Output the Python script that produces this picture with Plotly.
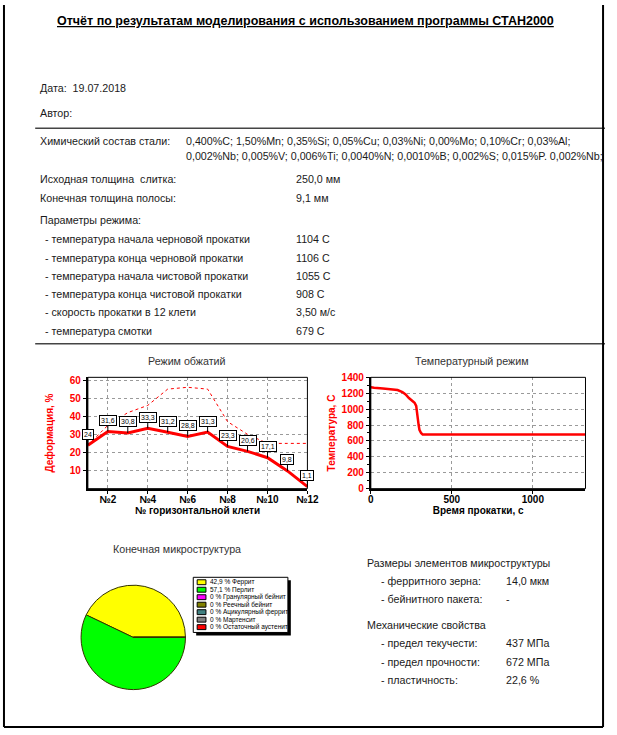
import plotly.graph_objects as go

W, H = 617, 735
FONT = "Liberation Sans, Arial, sans-serif"

# --- report data ---
report_title = "Отчёт по результатам моделирования с использованием программы СТАН2000"
report_date = "19.07.2018"
chem_line1 = "0,400%C; 1,50%Mn; 0,35%Si; 0,05%Cu; 0,03%Ni; 0,00%Mo; 0,10%Cr; 0,03%Al;"
chem_line2 = "0,002%Nb; 0,005%V; 0,006%Ti; 0,0040%N; 0,0010%B; 0,002%S; 0,015%P. 0,002%Nb;"
thickness_labels = ["Исходная толщина  слитка:", "Конечная толщина полосы:"]
thickness_values = ["250,0 мм", "9,1 мм"]
mode_labels = [
    " - температура начала черновой прокатки",
    " - температура конца черновой прокатки",
    " - температура начала чистовой прокатки",
    " - температура конца чистовой прокатки",
    " - скорость прокатки в 12 клети",
    " - температура смотки",
]
mode_values = ["1104 С", "1106 С", "1055 С", "908 С", "3,50 м/с", "679 С"]

# deformation by stand
stands = [1, 2, 3, 4, 5, 6, 7, 8, 9, 10, 11, 12]
deformation = [24, 31.6, 30.8, 33.3, 31.2, 28.8, 31.3, 23.3, 20.6, 17.1, 9.8, 1.1]
max_deformation = [24, 35, 42, 46, 55, 56, 55, 37, 30, 25, 25, 25]
stand_ticks = [2, 4, 6, 8, 10, 12]

# temperature vs time
time_s = [0, 20, 75, 130, 165, 195, 215, 235, 255, 270, 280, 285, 290, 295, 300, 310, 320, 1330]
temp_c = [1275, 1268, 1260, 1250, 1240, 1215, 1185, 1140, 1105, 1080, 1040, 980, 880, 800, 740, 700, 680, 680]

# microstructure
phase_names = ["Феррит", "Перлит", "Гранулярный бейнит", "Реечный бейнит",
               "Ацикулярный феррит", "Мартенсит", "Остаточный аустенит"]
phase_share = [42.9, 57.1, 0, 0, 0, 0, 0]
phase_colors = ["#ffff00", "#00ff00", "#ff00ff", "#808000", "#408080", "#808080", "#ff0000"]

size_labels = ["- ферритного зерна:", "- бейнитного пакета:"]
size_values = ["14,0 мкм", "-"]
mech_labels = ["- предел текучести:", "- предел прочности:", "- пластичность:"]
mech_values = ["437 МПа", "672 МПа", "22,6 %"]


def px(x):
    return x / W


def py(y):
    return 1 - y / H


def fmt(v):
    return f"{v:g}".replace(".", ",")


fig = go.Figure()

# deformation chart
fig.add_trace(go.Scatter(x=stands, y=max_deformation, mode="lines",
                         line=dict(color="#ff0000", width=1, dash="dot"),
                         xaxis="x", yaxis="y", showlegend=False))
fig.add_trace(go.Scatter(x=stands, y=deformation, mode="lines",
                         line=dict(color="#ff0000", width=3),
                         xaxis="x", yaxis="y", showlegend=False))

# temperature chart
fig.add_trace(go.Scatter(x=time_s, y=temp_c, mode="lines",
                         line=dict(color="#ff0000", width=2.5),
                         xaxis="x2", yaxis="y2", showlegend=False))

# pie: first slice ends at 3 o'clock, going counterclockwise
first_angle = 90 - phase_share[0] / sum(phase_share) * 360
fig.add_trace(go.Pie(labels=phase_names, values=phase_share, sort=False,
                     rotation=first_angle, direction="counterclockwise",
                     marker=dict(colors=phase_colors, line=dict(color="#333300", width=1)),
                     textinfo="none", showlegend=False,
                     domain=dict(x=[px(79), px(188)], y=[py(695), py(589)])))

annotations = []
shapes = []


def text(x, y, s, size=10.7, color="#1a1a1a", anchor="left", bold=False):
    annotations.append(dict(
        x=px(x), y=py(y), xref="paper", yref="paper", text=f"<b>{s}</b>" if bold else s,
        showarrow=False, xanchor=anchor, yanchor="middle",
        font=dict(family=FONT, size=size, color=color)))


# header
text(310, 16, f"<u>{report_title}</u>", size=12.5, color="#000", anchor="center", bold=True)
text(36, 84, f"Дата:&nbsp;&nbsp;{report_date}")
text(36, 110, "Автор:")
text(36, 138, "Химический состав стали:")
text(185, 138, chem_line1)
text(185, 153, chem_line2)
for i, (lab, val) in enumerate(zip(thickness_labels, thickness_values)):
    text(36, 177 + i * 18.5, lab)
    text(298, 177 + i * 18.5, val)
text(36, 218, "Параметры режима:")
for i, (lab, val) in enumerate(zip(mode_labels, mode_values)):
    text(38, 238 + i * 18.5, lab)
    text(298, 238 + i * 18.5, val)

shapes.append(dict(type="line", xref="paper", yref="paper", x0=px(33), x1=1, y0=py(125), y1=py(125),
                   line=dict(color="#444", width=1.5)))
shapes.append(dict(type="line", xref="paper", yref="paper", x0=px(33), x1=1, y0=py(344), y1=py(344),
                   line=dict(color="#444", width=1.5)))

# chart titles
text(189, 361, "Режим обжатий", color="#333", anchor="center")
text(481, 361, "Температурный режим", color="#333", anchor="center")
text(178, 552, "Конечная микроструктура", color="#333", anchor="center")

# data labels on deformation
for s, v in zip(stands, deformation):
    annotations.append(dict(
        x=s, y=v, xref="x", yref="y", text=fmt(v), showarrow=True, arrowhead=0,
        arrowwidth=1, arrowcolor="#000", ax=0, ay=-11, standoff=0,
        font=dict(family=FONT, size=7, color="#000"), bgcolor="#fff",
        bordercolor="#000", borderwidth=1, borderpad=1))

# plot frames
for xr, yr in (("x domain", "y domain"), ("x2 domain", "y2 domain")):
    shapes.append(dict(type="rect", xref=xr, yref=yr, x0=0, x1=1, y0=0, y1=1,
                       line=dict(color="#000", width=1)))

# pie legend box
lx0, lx1, ly0, ly1 = 195, 292, 581, 637
shapes.append(dict(type="rect", xref="paper", yref="paper", x0=px(lx0 + 3), x1=px(lx1 + 3),
                   y0=py(ly1 + 3), y1=py(ly0 + 3), fillcolor="#000", line=dict(width=0)))
shapes.append(dict(type="rect", xref="paper", yref="paper", x0=px(lx0), x1=px(lx1),
                   y0=py(ly1), y1=py(ly0), fillcolor="#fff", line=dict(color="#000", width=1)))
for i, (name, share, col) in enumerate(zip(phase_names, phase_share, phase_colors)):
    yy = 586 + i * 7.6
    shapes.append(dict(type="rect", xref="paper", yref="paper", x0=px(199), x1=px(208),
                       y0=py(yy + 2.5), y1=py(yy - 2.5), fillcolor=col,
                       line=dict(color="#000", width=1)))
    text(210, yy, f"{fmt(share)} % {name}", size=6.5, color="#000")

# right info block
text(371, 566, "Размеры элементов микроструктуры")
for i, (lab, val) in enumerate(zip(size_labels, size_values)):
    text(385, 585 + i * 18.5, lab)
    text(513, 585 + i * 18.5, val)
text(371, 629, "Механические свойства")
for i, (lab, val) in enumerate(zip(mech_labels, mech_values)):
    text(385, 648 + i * 18.5, lab)
    text(513, 648 + i * 18.5, val)

# page border
for x0, y0, x1, y1 in ((1, 0, 1, 733), (615, 0, 615, 733), (1, 733, 615, 733)):
    shapes.append(dict(type="line", xref="paper", yref="paper", x0=px(x0), x1=px(x1),
                       y0=py(y0), y1=py(y1), line=dict(color="#000", width=2)))

axis_font = dict(family=FONT, size=10, color="#000", weight="bold")
red_font = dict(family=FONT, size=10, color="#ff0000", weight="bold")
grid = dict(showgrid=True, gridcolor="#9a9a9a", griddash="dot", gridwidth=1,
            zeroline=False, showline=True, linecolor="#000", linewidth=2,
            ticks="outside", ticklen=3, tickcolor="#000")

fig.update_layout(
    width=W, height=H, margin=dict(l=0, r=0, t=0, b=0),
    paper_bgcolor="#fff", plot_bgcolor="#fff", showlegend=False,
    annotations=annotations, shapes=shapes,
    xaxis=dict(domain=[px(87), px(312)], range=[1, 12], anchor="y",
               tickvals=stand_ticks, ticktext=[f"№{s}" for s in stand_ticks],
               tickfont=axis_font, ticklabelstandoff=-3,
               title=dict(text="№ горизонтальной клети", font=dict(family=FONT, size=10, color="#000", weight="bold"), standoff=0),
               **grid),
    yaxis=dict(domain=[py(491), py(378)], range=[0, 61.5], anchor="x",
               tickvals=[10, 20, 30, 40, 50, 60], tickfont=red_font,
               title=dict(text="Деформация, %", font=dict(family=FONT, size=10, color="#ff0000", weight="bold"), standoff=14),
               **grid),
    xaxis2=dict(domain=[px(377), px(597)], range=[0, 1325], anchor="y2",
                tickvals=[0, 500, 1000], tickfont=axis_font, ticklabelstandoff=-3,
                title=dict(text="Время прокатки, с", font=dict(family=FONT, size=10, color="#000", weight="bold"), standoff=0),
                **grid),
    yaxis2=dict(domain=[py(491), py(378)], range=[0, 1400], anchor="x2",
                dtick=200, tickfont=red_font,
                minor=dict(dtick=100, ticks="outside", ticklen=2, tickcolor="#000"),
                title=dict(text="Температура, С", font=dict(family=FONT, size=10, color="#ff0000", weight="bold"), standoff=4),
                **grid),
)

# plotly's page keeps an 8px body margin; drop it so the figure sits at the window corner
fig.write_html("out.html", config={"displayModeBar": False},
               post_script="document.body.style.margin = '0';")
